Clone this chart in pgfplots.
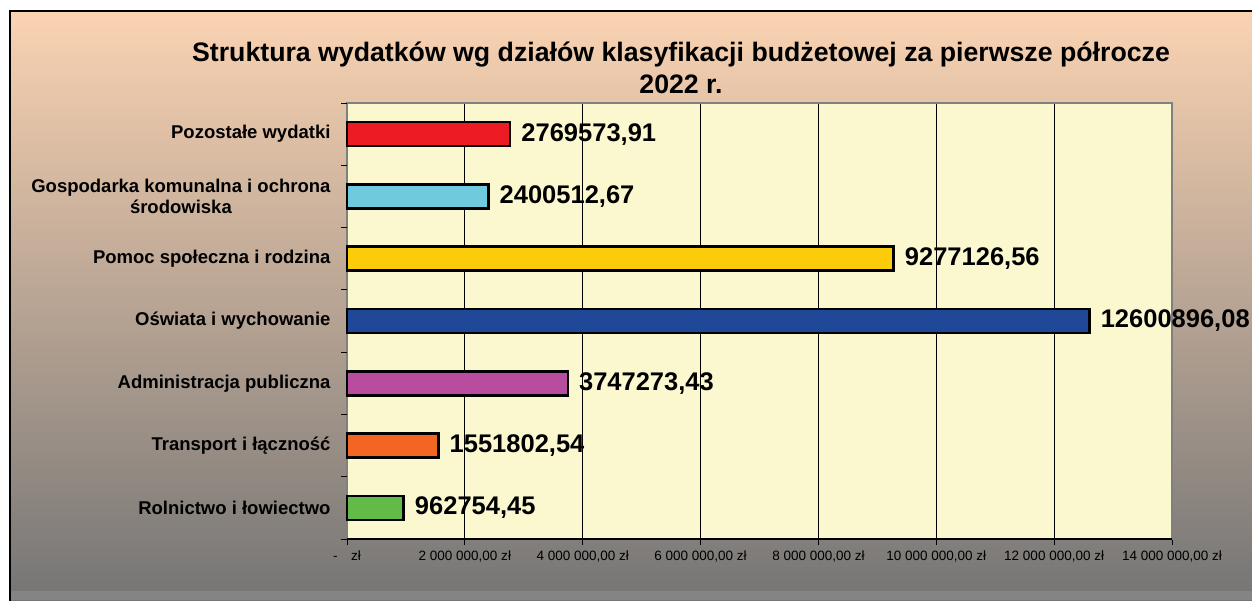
\documentclass[border=0pt]{standalone}
\usepackage{fontspec}
\setmainfont{Liberation Sans}
\usepackage{pgfplots}
\pgfplotsset{compat=1.18}
\definecolor{peach}{RGB}{250,211,178}
\definecolor{bggray}{RGB}{117,117,117}
\definecolor{stripgray}{RGB}{132,132,132}
\definecolor{plotbg}{RGB}{251,248,208}
\definecolor{axgray}{RGB}{128,128,128}
\definecolor{cred}{RGB}{237,28,36}
\definecolor{ccyan}{RGB}{110,202,220}
\definecolor{cyellow}{RGB}{252,204,10}
\definecolor{cblue}{RGB}{31,72,153}
\definecolor{cmagenta}{RGB}{184,76,158}
\definecolor{corange}{RGB}{242,101,34}
\definecolor{cgreen}{RGB}{98,187,71}

\begin{document}
\begin{tikzpicture}[x=1pt,y=1pt]
\path[use as bounding box] (0,0) rectangle (1252,600);
\clip (0,0) rectangle (1252,600);
\fill[white] (0,0) rectangle (1252,600);
\shade[top color=peach, bottom color=bggray] (10,0) rectangle (1262,589);
\fill[stripgray] (10,0) rectangle (1262,9);
\draw[black, line width=1.2pt] (10,-2) -- (10,589) -- (1262,589);

\node[align=center, font=\fontsize{26.7}{32}\selectfont\bfseries] at (681,532)
  {Struktura wydatków wg działów klasyfikacji budżetowej za pierwsze półrocze\\2022 r.};

\begin{axis}[
    at={(347pt,61pt)}, anchor=south west,
    scale only axis, width=825pt, height=436pt,
    xbar, bar width=24pt, bar shift=0pt,
    xmin=0, xmax=14000000, ymin=-0.5, ymax=6.5,
    axis background/.style={fill=plotbg},
    axis line style={draw=axgray, line width=2pt},
    clip=false,
    scaled x ticks=false,
    tick align=outside,
    xtick pos=lower, ytick pos=left,
    major tick length=6pt,
    xtick={0,2000000,4000000,6000000,8000000,10000000,12000000,14000000},
    xticklabels={{-\quad zł},{2 000 000,00 zł},{4 000 000,00 zł},{6 000 000,00 zł},
      {8 000 000,00 zł},{10 000 000,00 zł},{12 000 000,00 zł},{14 000 000,00 zł}},
    xticklabel style={font=\fontsize{13.5}{15}\selectfont, yshift=-2pt},
    x tick style={black, line width=1pt},
    xmajorgrids, major x grid style={black, line width=1pt},
    ytick={0,1,2,3,4,5,6},
    yticklabels={Rolnictwo i łowiectwo, Transport i łączność, Administracja publiczna,
      Oświata i wychowanie, Pomoc społeczna i rodzina,
      {Gospodarka komunalna i ochrona\\środowiska}, Pozostałe wydatki},
    yticklabel style={font=\fontsize{18.5}{21}\selectfont\bfseries, align=center, xshift=-7pt},
    y tick style={draw=none},
    extra y ticks={-0.5,0.5,1.5,2.5,3.5,4.5,5.5,6.5},
    extra y tick labels={},
    extra y tick style={y tick style={draw=black, line width=1pt}},
    nodes near coords, point meta=explicit symbolic,
    nodes near coords style={anchor=west, inner sep=0pt, xshift=10pt,
      font=\fontsize{25.5}{28}\selectfont\bfseries, text=black},
    every axis plot/.append style={draw=black, line width=2.5pt},
]
\addplot[fill=cgreen] coordinates {(962754.45,0) [962754,45]};
\addplot[fill=corange] coordinates {(1551802.54,1) [1551802,54]};
\addplot[fill=cmagenta] coordinates {(3747273.43,2) [3747273,43]};
\addplot[fill=cblue] coordinates {(12600896.08,3) [12600896,08]};
\addplot[fill=cyellow] coordinates {(9277126.56,4) [9277126,56]};
\addplot[fill=ccyan] coordinates {(2400512.67,5) [2400512,67]};
\addplot[fill=cred] coordinates {(2769573.91,6) [2769573,91]};
\draw[black, line width=1.5pt] (rel axis cs:0,0) -- (rel axis cs:1,0);
\end{axis}
\end{tikzpicture}
\end{document}
